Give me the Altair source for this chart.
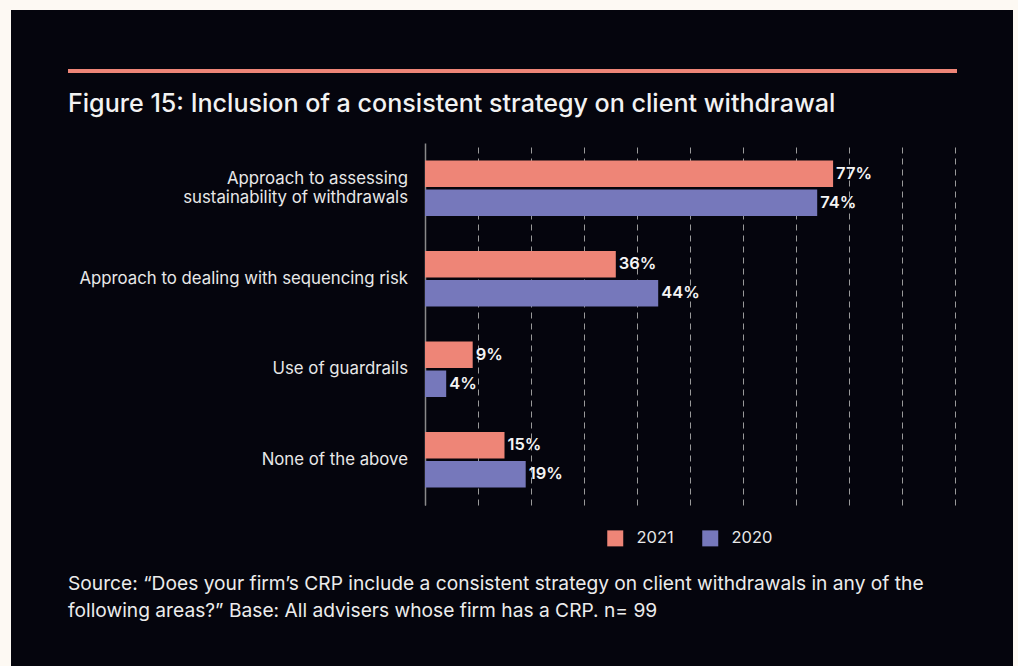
import altair as alt
import pandas as pd

categories = [
    "Approach to assessing sustainability of withdrawals",
    "Approach to dealing with sequencing risk",
    "Use of guardrails",
    "None of the above",
]
category_lines = [
    ["Approach to assessing", "sustainability of withdrawals"],
    ["Approach to dealing with sequencing risk"],
    ["Use of guardrails"],
    ["None of the above"],
]
years = ["2021", "2020"]
values_2021 = [77, 36, 9, 15]
values_2020 = [74, 44, 4, 19]
colors = ["#ee8577", "#7678bb"]

title_text = "Figure 15: Inclusion of a consistent strategy on client withdrawal"
source_lines = [
    "Source: \u201cDoes your firm\u2019s CRP include a consistent strategy on client withdrawals in any of the",
    "following areas?\u201d Base: All advisers whose firm has a CRP. n= 99",
]

rows = []
for c, a, b in zip(categories, values_2021, values_2020):
    rows.append({"category": c, "year": "2021", "value": a, "label": f"{a}%"})
    rows.append({"category": c, "year": "2020", "value": b, "label": f"{b}%"})
df = pd.DataFrame(rows)

cat_df = pd.DataFrame({
    "category": categories,
    "nlines": [len(l) for l in category_lines],
})

DARK = "#05050d"
CREAM = "#fdf9f3"
FONT = "Inter"
LABEL_COLOR = "#e8e8e8"

x_enc = alt.X(
    "value:Q",
    scale=alt.Scale(domain=[0, 100], nice=False),
    axis=alt.Axis(
        title=None, labels=False, ticks=False, domain=False, grid=True,
        gridDash=[6, 5], gridColor="#9a9a9a", gridWidth=1,
        values=list(range(0, 101, 10)),
    ),
)
y_enc = alt.Y(
    "category:N",
    sort=categories,
    scale=alt.Scale(paddingInner=0.387, paddingOuter=0.193),
    axis=alt.Axis(
        title=None, ticks=False, domain=True, domainColor="#8a8a8a",
        domainWidth=1.5, labels=False, grid=False,
    ),
)
yoff_enc = alt.YOffset("year:N", sort=years, scale=alt.Scale(paddingInner=0.086))

base = alt.Chart(df)

bars = base.mark_bar().encode(
    x=x_enc,
    y=y_enc,
    yOffset=yoff_enc,
    color=alt.Color(
        "year:N",
        scale=alt.Scale(domain=years, range=colors),
        legend=alt.Legend(
            title=None, orient="none", legendX=182, legendY=387,
            direction="horizontal", symbolType="square", symbolSize=256,
            symbolStrokeWidth=0, symbolOpacity=1, labelFontSize=16.5,
            labelColor=LABEL_COLOR, labelFont=FONT, labelOffset=13,
            columnPadding=28, padding=0,
        ),
    ),
)

labels = base.mark_text(
    align="left", dx=3, baseline="middle", font=FONT, fontSize=16.5,
    fontWeight=600, color="#f5f5f5",
).encode(x=x_enc, y=y_enc, yOffset=yoff_enc, text="label:N")

# category labels (y axis) as text marks so that the 2-line label is centred
cat_single = alt.Chart(cat_df).transform_filter("datum.nlines == 1").mark_text(
    align="right", baseline="middle", font=FONT, fontSize=16.8, color=LABEL_COLOR,
).encode(x=alt.value(-17), y=alt.Y("category:N", sort=categories), text="category:N")
cat_multi = alt.Chart(cat_df).transform_filter("datum.nlines == 2").mark_text(
    align="right", baseline="middle", font=FONT, fontSize=16.8, color=LABEL_COLOR,
    text=category_lines[0], lineHeight=19, dy=-9.5,
).encode(x=alt.value(-17), y=alt.Y("category:N", sort=categories))

one = pd.DataFrame({"d": [0]})

frame_top = alt.Chart(one).mark_rect(color=CREAM).encode(
    x=alt.value(-425), x2=alt.value(593), y=alt.value(-143), y2=alt.value(-133)
)
frame_left = alt.Chart(one).mark_rect(color=CREAM).encode(
    x=alt.value(-425), x2=alt.value(-414), y=alt.value(-143), y2=alt.value(523)
)
frame_right = alt.Chart(one).mark_rect(color=CREAM).encode(
    x=alt.value(588), x2=alt.value(593), y=alt.value(-143), y2=alt.value(523)
)
accent = alt.Chart(one).mark_rect(color="#ee8577").encode(
    x=alt.value(-357), x2=alt.value(532), y=alt.value(-74), y2=alt.value(-70)
)
title = alt.Chart(one).mark_text(
    text=title_text, align="left", baseline="alphabetic", fontSize=25.1,
    fontWeight=500, font=FONT, color="#f2f2f2",
).encode(x=alt.value(-357), y=alt.value(-31))
source = alt.Chart(one).mark_text(
    text=source_lines, align="left", baseline="alphabetic", fontSize=19.2,
    font=FONT, color="#ececec", lineHeight=27,
).encode(x=alt.value(-357), y=alt.value(447))

chart = alt.layer(
    frame_top, frame_left, frame_right, accent, title, source,
    bars, labels, cat_single, cat_multi,
).properties(
    width=530, height=362,
    autosize=alt.AutoSizeParams(type="none"),
    padding={"left": 425, "top": 143, "right": 63, "bottom": 161},
    background=DARK,
).configure_view(stroke=None).configure_axis(zindex=0)

chart.save("out.html", embed_options={"renderer": "svg", "actions": False})
